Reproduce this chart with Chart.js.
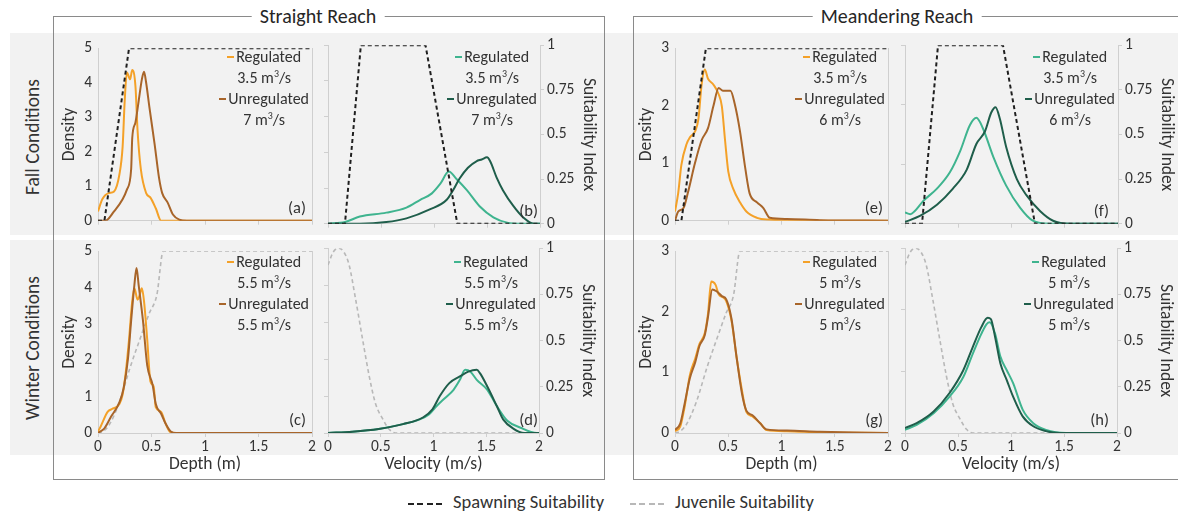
<!DOCTYPE html>
<html>
<head>
<meta charset="utf-8">
<script src="https://cdn.jsdelivr.net/npm/chart.js@4.4.0/dist/chart.umd.min.js"></script>
<style>
  body { margin: 0; background: #fff; }
  #fig { position: relative; width: 1178px; height: 513px; overflow: hidden; font-family: Carlito, Lato, sans-serif; color: #333; }
  .band { position: absolute; left: 10px; width: 1168px; background: #f2f2f2; }
  .frame { position: absolute; border: 1px solid #8a8a8a; }
  .ftitle { position: absolute; top: 4px; transform: translateX(-50%); background: #fff; padding: 0 8px; font-size: 20px; line-height: 24px; color: #262626; white-space: nowrap; }
  .cv { position: absolute; }
  .leg { position: absolute; text-align: center; font-size: 16px; line-height: 21px; white-space: nowrap; }
  .sw { display: inline-block; width: 7px; height: 2px; vertical-align: middle; margin-right: 2px; position: relative; top: -1px; }
  sup { font-size: 0.62em; line-height: 0; vertical-align: 0.6em; }
  .rowlab { position: absolute; transform: translate(-50%, -50%) rotate(-90deg); font-size: 19.5px; white-space: nowrap; }
  .blg { position: absolute; top: 491px; font-size: 18.5px; line-height: 22px; white-space: nowrap; }
  .dash { display: inline-block; width: 34px; height: 2px; vertical-align: middle; margin-right: 11px; }
</style>
</head>
<body>
<div id="fig">
  <div class="band" style="top:33px;height:202px"></div>
  <div class="band" style="top:240px;height:215px"></div>
  <div class="frame" style="left:53px;top:16px;width:550px;height:462px"></div>
  <div class="frame" style="left:633px;top:16px;width:600px;height:462px"></div>
  <div class="ftitle" style="left:318px">Straight Reach</div>
  <div class="ftitle" style="left:897px">Meandering Reach</div>
  <div class="rowlab" style="left:32px;top:137px">Fall Conditions</div>
  <div class="rowlab" style="left:32px;top:348px">Winter Conditions</div>
  <div class="blg" style="left:408px"><span class="dash" style="background:repeating-linear-gradient(90deg,#222 0 6px,transparent 6px 9.5px)"></span>Spawning Suitability</div>
  <div class="blg" style="left:630px"><span class="dash" style="background:repeating-linear-gradient(90deg,#b8b8b8 0 6px,transparent 6px 9.5px)"></span>Juvenile Suitability</div>
</div>
<script>
// densidades: [profundidad o velocidad, densidad]
const straightFallDepthReg = [[0,0.27],[0.04,0.62],[0.10,0.8],[0.15,0.85],[0.20,1.34],[0.23,2.14],[0.25,3.5],[0.27,4.3],[0.30,4.1],[0.32,4.37],[0.35,3.9],[0.37,2.6],[0.40,1.5],[0.45,0.8],[0.49,0.67],[0.54,0.36],[0.59,0],[2,0]];
const straightFallDepthUnreg = [[0,0],[0.07,0],[0.15,0.27],[0.23,0.62],[0.27,0.9],[0.31,1.5],[0.32,2.4],[0.35,2.85],[0.38,3.47],[0.41,4.1],[0.43,4.32],[0.45,4.0],[0.48,3.3],[0.53,2.2],[0.57,1.25],[0.60,0.8],[0.65,0.53],[0.70,0.18],[0.76,0.03],[0.83,0],[2,0]];
const straightFallVelReg = [[0,0],[0.16,0.045],[0.30,0.2],[0.55,0.31],[0.74,0.45],[0.87,0.67],[0.98,0.85],[1.06,1.12],[1.14,1.46],[1.21,1.26],[1.31,0.94],[1.43,0.49],[1.56,0.18],[1.69,0.03],[1.81,0],[2,0]];
const straightFallVelUnreg = [[0,0],[0.30,0],[0.55,0.045],[0.74,0.15],[0.96,0.4],[1.12,0.67],[1.18,0.94],[1.24,1.26],[1.32,1.57],[1.40,1.75],[1.45,1.8],[1.50,1.86],[1.53,1.75],[1.59,1.3],[1.65,0.94],[1.75,0.49],[1.84,0.18],[1.94,0],[2,0]];
const straightWinterDepthReg = [[0,0.04],[0.025,0.18],[0.09,0.58],[0.13,0.66],[0.2,0.8],[0.23,1.06],[0.26,1.68],[0.29,2.57],[0.32,3.63],[0.34,3.98],[0.37,3.67],[0.39,3.8],[0.41,3.98],[0.43,3.63],[0.46,2.57],[0.49,1.42],[0.52,1.28],[0.54,0.71],[0.59,0.58],[0.63,0.27],[0.67,0.04],[0.71,0],[2,0]];
const straightWinterDepthUnreg = [[0,0],[0.06,0.13],[0.12,0.44],[0.2,0.84],[0.24,1.24],[0.28,2.04],[0.31,3.1],[0.34,4.07],[0.36,4.54],[0.38,4.07],[0.42,3.1],[0.46,1.86],[0.51,1.33],[0.54,0.8],[0.59,0.53],[0.63,0.27],[0.68,0.04],[0.73,0],[2,0]];
const straightWinterVelReg = [[0,0],[0.23,0.036],[0.48,0.11],[0.71,0.24],[0.87,0.37],[0.96,0.51],[1.03,0.73],[1.11,0.95],[1.19,1.17],[1.25,1.44],[1.3,1.71],[1.35,1.66],[1.41,1.44],[1.51,1.17],[1.6,0.73],[1.7,0.33],[1.82,0.15],[1.98,0],[2,0]];
const straightWinterVelUnreg = [[0,0],[0.23,0.036],[0.48,0.11],[0.71,0.24],[0.9,0.42],[0.99,0.64],[1.06,1.0],[1.15,1.35],[1.25,1.53],[1.33,1.66],[1.41,1.71],[1.44,1.62],[1.51,1.26],[1.6,0.73],[1.66,0.37],[1.76,0.11],[1.86,0],[2,0]];
const meanderFallDepthReg = [[0,0.16],[0.03,0.48],[0.06,0.97],[0.11,1.34],[0.14,1.45],[0.19,1.56],[0.22,1.77],[0.25,2.37],[0.28,2.63],[0.31,2.47],[0.36,2.37],[0.41,2.2],[0.44,1.99],[0.47,1.4],[0.5,0.86],[0.55,0.54],[0.61,0.32],[0.67,0.16],[0.77,0.05],[0.86,0.02],[1.36,0],[2,0]];
const meanderFallDepthUnreg = [[0,0],[0.03,0.16],[0.08,0.22],[0.12,0.48],[0.19,1.02],[0.25,1.4],[0.31,1.61],[0.36,1.99],[0.41,2.31],[0.45,2.26],[0.52,2.26],[0.56,2.04],[0.61,1.56],[0.66,0.91],[0.7,0.48],[0.77,0.32],[0.83,0.22],[0.89,0.05],[1.05,0.03],[1.36,0.01],[2,0]];
const meanderFallVelReg = [[0,0.19],[0.05,0.16],[0.09,0.21],[0.17,0.38],[0.3,0.59],[0.42,0.86],[0.52,1.23],[0.61,1.66],[0.67,1.78],[0.73,1.61],[0.83,1.12],[0.95,0.64],[1.08,0.27],[1.2,0.05],[1.36,0],[2,0]];
const meanderFallVelUnreg = [[0,0.03],[0.14,0.13],[0.3,0.32],[0.45,0.59],[0.58,0.91],[0.67,1.34],[0.75,1.55],[0.81,1.87],[0.85,1.96],[0.89,1.77],[0.95,1.29],[1.05,0.75],[1.14,0.48],[1.27,0.21],[1.39,0.05],[1.55,0],[2,0]];
const meanderWinterDepthReg = [[0,0.03],[0.05,0.11],[0.09,0.43],[0.14,0.96],[0.19,1.23],[0.23,1.47],[0.28,1.65],[0.31,1.97],[0.34,2.5],[0.38,2.45],[0.41,2.29],[0.45,2.24],[0.48,2.18],[0.53,1.86],[0.58,1.23],[0.63,0.69],[0.67,0.35],[0.73,0.27],[0.8,0.16],[0.86,0.05],[1.05,0.03],[1.36,0.01],[2,0]];
const meanderWinterDepthUnreg = [[0,0.05],[0.05,0.16],[0.09,0.48],[0.14,0.91],[0.19,1.17],[0.23,1.44],[0.28,1.62],[0.31,1.92],[0.35,2.37],[0.39,2.34],[0.44,2.26],[0.48,2.21],[0.53,1.89],[0.58,1.23],[0.63,0.64],[0.67,0.37],[0.73,0.29],[0.8,0.16],[0.86,0.06],[1.05,0.04],[1.36,0.02],[2,0]];
const meanderWinterVelReg = [[0,0.05],[0.11,0.13],[0.27,0.32],[0.42,0.59],[0.55,0.91],[0.64,1.29],[0.72,1.61],[0.77,1.77],[0.8,1.8],[0.85,1.61],[0.9,1.24],[0.96,1.02],[1.02,0.81],[1.11,0.38],[1.21,0.16],[1.33,0.05],[1.52,0],[2,0]];
const meanderWinterVelUnreg = [[0,0.08],[0.11,0.16],[0.27,0.35],[0.42,0.65],[0.55,1.02],[0.64,1.4],[0.72,1.72],[0.78,1.87],[0.81,1.85],[0.85,1.56],[0.9,1.13],[0.96,0.86],[1.02,0.59],[1.11,0.27],[1.21,0.11],[1.33,0.03],[1.46,0],[2,0]];

// índices de idoneidad (eje derecho 0-1)
const spawnDepthSuit = [[0,0],[0.06,0],[0.29,1],[2,1]];
const spawnVelSuit = [[0,0],[0.16,0],[0.31,1],[0.92,1],[1.22,0],[2,0]];
const juvDepthSuit = [[0,0],[0.05,0.01],[0.11,0.05],[0.2,0.17],[0.3,0.36],[0.4,0.53],[0.48,0.66],[0.55,0.76],[0.61,1],[2,1]];
const juvVelSuit = [[0,0.91],[0.05,0.98],[0.1,1],[0.15,0.98],[0.2,0.91],[0.26,0.73],[0.33,0.5],[0.39,0.31],[0.45,0.16],[0.52,0.075],[0.58,0.02],[0.64,0],[2,0]];

const panelLetters = ['a','b','c','d','e','f','g','h'];
const regFlows = ['3.5','3.5','5.5','5.5','3.5','3.5','5','5'];
const unregFlows = ['7','7','5.5','5.5','6','6','5','5'];
const densityMax = [5,5,5,5,3,3,3,3];
const xTicks = [0,0.5,1,1.5,2];

const FONT = 'Carlito, Lato, sans-serif';
const TXT = '#333333';
const AXIS = '#cfcfcf';
const COLORS = {
    depth: { reg: '#F4A128', unreg: '#A8652A' },
    vel: { reg: '#3FB48F', unreg: '#1F5E4B' }
};

Chart.defaults.font.family = FONT;
Chart.defaults.color = TXT;

// posición de cada área de gráfico en la figura
const panels = [
    { L: 98,  R: 312,  T: 43,  B: 230, row: 1, qty: 'depth', reg: straightFallDepthReg,   unreg: straightFallDepthUnreg,   suit: spawnDepthSuit, spawn: true,  side: 'left',  lblOff: 6 },
    { L: 328, R: 540,  T: 43,  B: 230, row: 1, qty: 'vel',   reg: straightFallVelReg,     unreg: straightFallVelUnreg,     suit: spawnVelSuit,   spawn: true,  side: 'right', lblOff: 2 },
    { L: 98,  R: 312,  T: 246, B: 433, row: 2, qty: 'depth', reg: straightWinterDepthReg, unreg: straightWinterDepthUnreg, suit: juvDepthSuit,   spawn: false, side: 'left',  lblOff: 6 },
    { L: 328, R: 539,  T: 246, B: 433, row: 2, qty: 'vel',   reg: straightWinterVelReg,   unreg: straightWinterVelUnreg,   suit: juvVelSuit,     spawn: false, side: 'right', lblOff: 1 },
    { L: 675, R: 888,  T: 43,  B: 230, row: 1, qty: 'depth', reg: meanderFallDepthReg,    unreg: meanderFallDepthUnreg,    suit: spawnDepthSuit, spawn: true,  side: 'left',  lblOff: 5 },
    { L: 905, R: 1118, T: 43,  B: 230, row: 1, qty: 'vel',   reg: meanderFallVelReg,      unreg: meanderFallVelUnreg,      suit: spawnVelSuit,   spawn: true,  side: 'right', lblOff: 9 },
    { L: 675, R: 888,  T: 246, B: 433, row: 2, qty: 'depth', reg: meanderWinterDepthReg,  unreg: meanderWinterDepthUnreg,  suit: juvDepthSuit,   spawn: false, side: 'left',  lblOff: 5 },
    { L: 905, R: 1117, T: 246, B: 433, row: 2, qty: 'vel',   reg: meanderWinterVelReg,    unreg: meanderWinterVelUnreg,    suit: juvVelSuit,     spawn: false, side: 'right', lblOff: 8 }
];

const letterPlugin = {
    id: 'letter',
    afterDraw(chart, args, opts) {
        const ctx = chart.ctx, a = chart.chartArea;
        ctx.save();
        ctx.font = '16.5px ' + FONT;
        ctx.fillStyle = TXT;
        ctx.textAlign = 'right';
        ctx.textBaseline = 'middle';
        ctx.fillText('(' + opts.text + ')', a.right - opts.off, a.bottom - 12);
        ctx.restore();
    }
};

function toXY(arr) {
    return arr.map(p => ({ x: p[0], y: p[1] }));
}

const fig = document.getElementById('fig');

panels.forEach((p, i) => {
    const WL = 42, WR = 62, PADTOP = 10;
    const H = p.row === 2 ? 45 : 6;
    const leftLabels = p.side === 'left';
    const w = (p.R - p.L) + WL + WR;
    const h = (p.B - p.T) + PADTOP + H;

    const canvas = document.createElement('canvas');
    canvas.className = 'cv';
    canvas.width = w;
    canvas.height = h;
    canvas.style.left = (p.L - WL) + 'px';
    canvas.style.top = (p.T - PADTOP) + 'px';
    canvas.style.width = w + 'px';
    canvas.style.height = h + 'px';
    fig.appendChild(canvas);

    const col = COLORS[p.qty];
    new Chart(canvas, {
        type: 'line',
        data: {
            datasets: [
                {
                    data: toXY(p.suit),
                    yAxisID: 'y1',
                    borderColor: p.spawn ? '#1f1f1f' : '#b8b8b8',
                    borderDash: [4, 3],
                    borderWidth: p.spawn ? 2 : 1.6,
                    cubicInterpolationMode: p.spawn ? 'default' : 'monotone',
                    tension: p.spawn ? 0 : 0.4,
                    pointRadius: 0,
                    order: p.spawn ? 0 : 5
                },
                {
                    data: toXY(p.unreg),
                    yAxisID: 'y',
                    borderColor: col.unreg,
                    borderWidth: 2,
                    cubicInterpolationMode: 'monotone',
                    pointRadius: 0,
                    order: 1
                },
                {
                    data: toXY(p.reg),
                    yAxisID: 'y',
                    borderColor: col.reg,
                    borderWidth: 2,
                    cubicInterpolationMode: 'monotone',
                    pointRadius: 0,
                    order: 2
                }
            ]
        },
        options: {
            responsive: false,
            animation: false,
            devicePixelRatio: 1,
            layout: { padding: { top: PADTOP, left: 0, right: 0, bottom: 0 } },
            plugins: {
                legend: { display: false },
                tooltip: { enabled: false },
                letter: { text: panelLetters[i], off: p.lblOff }
            },
            scales: {
                x: {
                    type: 'linear',
                    min: 0,
                    max: 2,
                    afterBuildTicks: s => { s.ticks = xTicks.map(v => ({ value: v })); },
                    ticks: { display: p.row === 2, callback: v => String(v), font: { size: 15.5 }, padding: 1, maxRotation: 0 },
                    grid: { drawOnChartArea: false, drawTicks: true, tickLength: 4, color: AXIS },
                    border: { color: AXIS },
                    title: { display: p.row === 2, text: p.qty === 'depth' ? 'Depth (m)' : 'Velocity (m/s)', font: { size: 17.5 }, padding: { top: 0, bottom: 3 } },
                    afterFit: s => { s.height = H; }
                },
                y: {
                    position: 'left',
                    min: 0,
                    max: densityMax[i],
                    ticks: { display: leftLabels, stepSize: 1, callback: v => String(v), font: { size: 15.5 }, padding: 6 },
                    grid: { drawOnChartArea: false, drawTicks: !leftLabels, tickLength: 4, color: AXIS },
                    border: { color: AXIS },
                    title: { display: leftLabels, text: 'Density', font: { size: 17.5 }, padding: { top: 3, bottom: 0 } },
                    afterFit: s => { s.width = WL; }
                },
                y1: {
                    position: 'right',
                    min: 0,
                    max: 1,
                    ticks: { display: !leftLabels, stepSize: 0.25, callback: v => String(v), font: { size: 15.5 }, padding: 3 },
                    grid: { drawOnChartArea: false, drawTicks: !leftLabels, tickLength: 4, color: AXIS },
                    border: { color: AXIS },
                    title: { display: !leftLabels, text: 'Suitability Index', font: { size: 17.5 }, padding: { top: 3, bottom: 0 } },
                    afterFit: s => { s.width = WR; }
                }
            }
        },
        plugins: [letterPlugin]
    });

    // leyenda de cada panel (texto con superíndice)
    const leg = document.createElement('div');
    leg.className = 'leg';
    leg.style.right = (1178 - (p.R - 3)) + 'px';
    leg.style.top = (p.row === 1 ? 46 : 251) + 'px';
    leg.innerHTML =
        '<div><span class="sw" style="background:' + col.reg + '"></span>Regulated</div>' +
        '<div>' + regFlows[i] + ' m<sup>3</sup>/s</div>' +
        '<div><span class="sw" style="background:' + col.unreg + '"></span>Unregulated</div>' +
        '<div>' + unregFlows[i] + ' m<sup>3</sup>/s</div>';
    fig.appendChild(leg);
});
</script>
</body>
</html>
